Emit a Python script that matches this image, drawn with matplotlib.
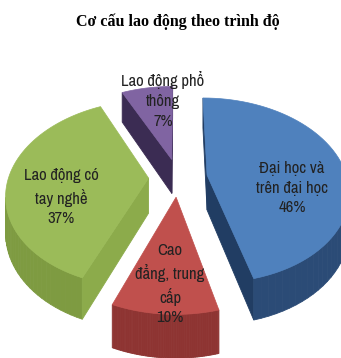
import numpy as np
import matplotlib.pyplot as plt
from matplotlib import font_manager
from matplotlib.patches import Polygon

names = {f.name for f in font_manager.fontManager.ttflist}
label_font = 'Archivo Narrow' if 'Archivo Narrow' in names else 'Liberation Sans'
plt.rcParams['font.family'] = [label_font, 'DejaVu Sans']

title = 'Cơ cấu lao động theo trình độ'
labels = ['Đại học và\ntrên đại học\n46%',
          'Cao\nđẳng, trung\ncấp\n10%',
          'Lao động có\ntay nghề\n37%',
          'Lao động phổ\nthông\n7%']
shares = [46, 10, 37, 7]
top_colors = ['#4f81bd', '#c0504d', '#9bbb59', '#8064a2']
side_colors = ['#2b4b76', '#8e3432', '#7e9b41', '#3b2c53']
face_colors = ['#213d63', '#7a2b29', '#8cab4b', '#3b2c53']
label_xy = [(292, 188), (170, 284), (61, 197), (163, 100)]

# fake 3d pie: perspective projection of a tilted disc (pixel coords)
cx, cy = 178, 177.5
B, A, k, H = 140, 90.6, 0.165, 35
explode = 0.21


def proj(u, v, z=0):
    s = 1.0 / (1 + k * v)
    return cx + B * u * s, cy - A * v * s + H * z * s


fig = plt.figure(figsize=(3.41, 3.58), dpi=100)
ax = fig.add_axes([0, 0, 1, 1])
ax.set_xlim(0, 341)
ax.set_ylim(358, 0)
ax.axis('off')

total = float(sum(shares))
starts = np.cumsum([0] + shares[:-1]) / total * 360
ends = np.cumsum(shares) / total * 360

slices = []
for i in range(len(shares)):
    a0 = 90 - starts[i]
    a1 = 90 - ends[i]
    mid = np.radians((a0 + a1) / 2)
    du, dv = explode * np.cos(mid), explode * np.sin(mid)
    th = np.radians(np.linspace(a1, a0, 60))
    pts = [(du, dv)] + [(du + np.cos(t), dv + np.sin(t)) for t in th]
    slices.append((dv, i, pts))

# back slices first
for dv, i, pts in sorted(slices, key=lambda s: -s[0]):
    n = len(pts)
    for j in range(n):
        p, q = pts[j], pts[(j + 1) % n]
        quad = [proj(*p), proj(*p, 1), proj(*q, 1), proj(*q)]
        xs = np.array([a[0] for a in quad])
        ys = -np.array([a[1] for a in quad])
        area = 0.5 * np.sum(xs * np.roll(ys, -1) - np.roll(xs, -1) * ys)
        if area <= 0:
            continue
        radial = (j == 0) or (j == n - 1)
        col = face_colors[i] if radial else side_colors[i]
        ax.add_patch(Polygon(quad, closed=True, fc=col, ec=col, lw=0.6))
    top = [proj(*p) for p in pts]
    ax.add_patch(Polygon(top, closed=True, fc=top_colors[i], ec=top_colors[i], lw=0.5))

for i, txt in enumerate(labels):
    ax.text(label_xy[i][0], label_xy[i][1], txt, ha='center', va='center',
            multialignment='center', fontsize=12, linespacing=1.4, color='#222222')

fig.text(0.52, 1 - 22 / 358, title, family=['Liberation Serif', 'DejaVu Serif'],
         fontweight='bold', fontsize=11.5, ha='center', va='center')

fig.savefig('out.png', dpi=100)
